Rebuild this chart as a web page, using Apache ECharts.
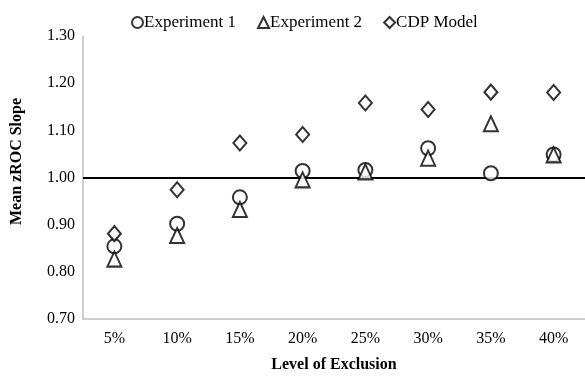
<!DOCTYPE html>
<html><head><meta charset="utf-8">
<script src="https://cdn.jsdelivr.net/npm/echarts@6/dist/echarts.min.js"></script>
<style>html,body{margin:0;padding:0;background:#fff}#c{width:585px;height:378px}</style>
</head><body><div id="c"></div>
<script>
var categories = ['5%','10%','15%','20%','25%','30%','35%','40%'];
var exp1 = [0.854, 0.902, 0.958, 1.014, 1.016, 1.062, 1.009, 1.049];
var exp2 = [0.827, 0.877, 0.932, 0.995, 1.012, 1.041, 1.114, 1.048];
var cdp  = [0.881, 0.974, 1.073, 1.091, 1.158, 1.144, 1.181, 1.180];
var refLine = 1.00;
var font = 'Liberation Serif, Times New Roman, serif';
var chart = echarts.init(document.getElementById('c'));
function ser(name, data, sym, size){
  return {name:name, type:'scatter', data:data, symbol:sym, symbolSize:size,
    itemStyle:{color:'#fff', borderColor:'#000', borderWidth:2}, z:3};
}
var s1 = ser('Experiment 1', exp1, 'circle', 14);
var s2 = ser('Experiment 2', exp2, 'triangle', [14,15]);
var s3 = ser('CDP Model', cdp, 'diamond', [13,15]);
s1.markLine = {silent:true, symbol:'none', label:{show:false},
  lineStyle:{color:'#000', width:2, type:'solid'}, data:[{yAxis:refLine}], z:1};
chart.setOption({
  animation:false,
  textStyle:{fontFamily:font},
  legend:{top:9, left:126, itemWidth:11, itemHeight:11, itemGap:21,
    textStyle:{fontFamily:font, fontSize:17, color:'#000', padding:[0,0,0,-4]},
    data:['Experiment 1','Experiment 2','CDP Model']},
  grid:{left:83, top:36, width:510, bottom:57},
  xAxis:{type:'category', data:categories, boundaryGap:true,
    name:'Level of Exclusion', nameLocation:'middle', nameGap:38,
    nameTextStyle:{fontFamily:font, fontSize:16, fontWeight:'bold', color:'#000'},
    axisLine:{lineStyle:{color:'#bfbfbf', width:1.5}}, axisTick:{show:false},
    axisLabel:{fontFamily:font, fontSize:16, color:'#000', margin:12}},
  yAxis:{type:'value', min:0.7, max:1.3, interval:0.1,
    name:'Mean zROC Slope', nameLocation:'middle', nameGap:58,
    nameTextStyle:{fontFamily:font, fontSize:16, fontWeight:'bold', color:'#000', padding:[0,0,0,32]},
    axisLine:{show:true, lineStyle:{color:'#bfbfbf', width:1.5}}, axisTick:{show:false},
    splitLine:{show:false},
    axisLabel:{fontFamily:font, fontSize:16, color:'#000', margin:8,
      formatter:function(v){return v.toFixed(2);}}},
  series:[s1, s2, s3]
});
</script></body></html>
